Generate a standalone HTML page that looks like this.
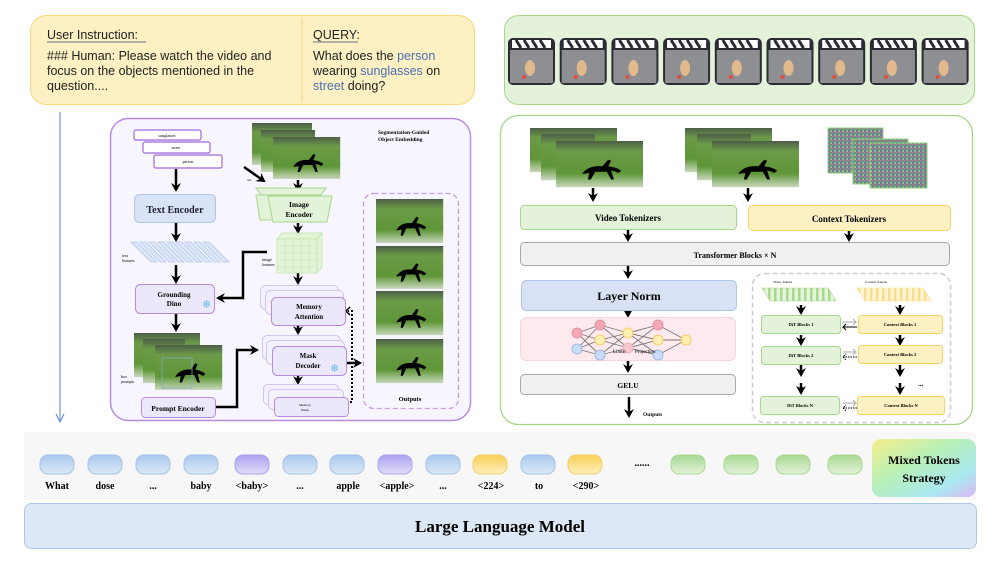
<!DOCTYPE html>
<html><head><meta charset="utf-8"><style>
html,body{margin:0;padding:0;background:#fff;width:997px;height:565px;overflow:hidden}
svg{display:block}
text{font-family:"Liberation Serif",serif}
.s{font-family:"Liberation Sans",sans-serif}
</style></head><body>
<svg width="997" height="565" viewBox="0 0 997 565" xmlns="http://www.w3.org/2000/svg">
<defs>
<marker id="ah" viewBox="0 0 10 10" refX="7" refY="5" markerWidth="4" markerHeight="4" orient="auto"><path d="M0,0 L9,5 L0,10 L3,5 Z" fill="#000"/></marker>
<linearGradient id="grass" x1="0" y1="0" x2="0" y2="1"><stop offset="0" stop-color="#4c5e48"/><stop offset="0.22" stop-color="#6c9a48"/><stop offset="0.7" stop-color="#5e9638"/><stop offset="0.88" stop-color="#9fbf88"/><stop offset="1" stop-color="#c9d6bd"/></linearGradient>
<g id="pic"><rect width="60" height="42" fill="url(#grass)"/><path d="M18,30 q4,-8 14,-7 l4,-6 2,1 -2,5 q6,1 9,4 l-2,2 q-3,-2 -5,-2 l2,8 -2,0 -3,-7 -8,0 -3,7 -2,0 1,-6z" fill="#000"/></g>
<g id="tok"><rect width="34" height="19" rx="8"/></g>
<linearGradient id="tb" x1="0" y1="0" x2="0" y2="1"><stop offset="0" stop-color="#a9c8ec"/><stop offset="1" stop-color="#dde9f7"/></linearGradient>
<linearGradient id="tp" x1="0" y1="0" x2="0" y2="1"><stop offset="0" stop-color="#a9a0ee"/><stop offset="1" stop-color="#e3dffa"/></linearGradient>
<linearGradient id="ty" x1="0" y1="0" x2="0" y2="1"><stop offset="0" stop-color="#f8cf55"/><stop offset="1" stop-color="#fdf0c0"/></linearGradient>
<linearGradient id="tg" x1="0" y1="0" x2="0" y2="1"><stop offset="0" stop-color="#a8d890"/><stop offset="1" stop-color="#e4f3dc"/></linearGradient>
<linearGradient id="mix" x1="0" y1="0" x2="1" y2="1"><stop offset="0" stop-color="#f6ee8a"/><stop offset="0.4" stop-color="#b9f0b6"/><stop offset="0.75" stop-color="#a9e9ef"/><stop offset="1" stop-color="#d9b7f4"/></linearGradient>
<pattern id="noise" width="4" height="4" patternUnits="userSpaceOnUse"><rect width="4" height="4" fill="#6f8b84"/><rect width="1.5" height="1.5" fill="#d060a8"/><rect x="2" y="1" width="1.5" height="1.5" fill="#40b070"/><rect x="0.5" y="2.5" width="1.5" height="1.5" fill="#5a6ad8"/><rect x="2.5" y="2.5" width="1.5" height="1.5" fill="#d0c860"/></pattern>
<pattern id="stg" width="6" height="6" patternUnits="userSpaceOnUse"><rect width="6" height="6" fill="#e6f4dc"/><rect width="2.5" height="6" fill="#a7d98d"/></pattern>
<pattern id="sty" width="6" height="6" patternUnits="userSpaceOnUse"><rect width="6" height="6" fill="#fff5d6"/><rect width="2.5" height="6" fill="#f8de8a"/></pattern>
</defs>

<rect x="30.5" y="15.5" width="444" height="89" rx="16" fill="#fdf0c3" stroke="#f6d77a"/>
<line x1="302" y1="18" x2="302" y2="102" stroke="#f0d68a"/>
<g class="s" font-size="12.5" fill="#222">
<text x="47" y="39" class="s">User Instruction:</text>
<line x1="47" y1="42" x2="146" y2="42" stroke="#999" stroke-width="1.5"/>
<text x="47" y="60" class="s">### Human: Please watch the video and</text>
<text x="47" y="75" class="s">focus on the objects mentioned in the</text>
<text x="47" y="90" class="s">question....</text>
<text x="313" y="39" class="s">QUERY:</text>
<line x1="313" y1="42" x2="358" y2="42" stroke="#999" stroke-width="1.5"/>
<text x="313" y="60" class="s">What does the <tspan fill="#4a6fb3">person</tspan></text>
<text x="313" y="75" class="s">wearing <tspan fill="#4a6fb3">sunglasses</tspan> on</text>
<text x="313" y="90" class="s"><tspan fill="#4a6fb3">street</tspan> doing?</text>
</g>

<rect x="504.5" y="15.5" width="470" height="89" rx="14" fill="#e3f2d9" stroke="#a6d68a"/>
<g id="frames">
<g transform="translate(508,38)"><rect width="47" height="47" rx="5" fill="#2b2b35"/><rect x="2" y="12" width="43" height="33" fill="#8e8f92"/><path d="M4,2h39v8h-39z" fill="#fff"/><path d="M8,2l5,8M16,2l5,8M24,2l5,8M32,2l5,8" stroke="#2b2b35" stroke-width="3"/><ellipse cx="22" cy="30" rx="5" ry="8" fill="#e1b98c"/><circle cx="16" cy="39" r="2" fill="#e04a3a"/></g>
</g>
<use href="#frames" x="51.7"/><use href="#frames" x="103.4"/><use href="#frames" x="155.1"/><use href="#frames" x="206.8"/><use href="#frames" x="258.5"/><use href="#frames" x="310.2"/><use href="#frames" x="361.9"/><use href="#frames" x="413.6"/>

<line x1="60" y1="112" x2="60" y2="420" stroke="#5b7fd0" stroke-width="1"/>
<path d="M56,414 L60,422 L64,414" fill="none" stroke="#5b7fd0"/>

<rect x="110.5" y="118.5" width="360" height="302" rx="18" fill="#f7f6fe" stroke="#b98ae0" stroke-width="1.5"/>
<text x="378" y="134" font-size="5.5" font-weight="bold">Segmentation-Guided</text>
<text x="378" y="141" font-size="5.5" font-weight="bold">Object Embedding</text>
<g stroke="#a068d8" fill="#fff" stroke-width="1.2">
<rect x="134" y="130" width="67" height="10" rx="2"/><rect x="143" y="142" width="67" height="11" rx="2"/><rect x="154" y="155" width="68" height="13" rx="2"/></g>
<g font-size="4" text-anchor="middle"><text x="167" y="137">sunglasses</text><text x="176" y="149">street</text><text x="188" y="163">person</text></g>
<g stroke="#000" stroke-width="2.5" fill="none" marker-end="url(#ah)">
<line x1="176" y1="169" x2="176" y2="190"/><line x1="176" y1="223" x2="176" y2="240"/><line x1="176" y1="265" x2="176" y2="282"/><line x1="176" y1="314" x2="176" y2="330"/>
<line x1="298" y1="180" x2="298" y2="190"/><line x1="298" y1="223" x2="298" y2="232"/><line x1="298" y1="273" x2="298" y2="283"/><line x1="298" y1="326" x2="298" y2="333"/><line x1="298" y1="376" x2="298" y2="383"/>
<line x1="244" y1="167" x2="264" y2="181"/>
<polyline points="267,252 243,252 243,298 218,298"/>
<polyline points="216,407 237,407 237,350 257,350"/>
<line x1="346" y1="363" x2="360" y2="363"/>
</g>
<polyline points="350,402 352,402 352,311 348,311" fill="none" stroke="#000" stroke-width="2" stroke-dasharray="2,2"/>
<path d="M350,307 l-4,4 4,4" fill="none" stroke="#000" stroke-width="1.5"/>
<rect x="134.5" y="194.5" width="81" height="28" rx="5" fill="#d8e3f6" stroke="#b0c6e8"/>
<text x="175" y="213" font-size="10" font-weight="bold" text-anchor="middle" fill="#223">Text Encoder</text>
<g fill="#dbe5f7" stroke="#b5c8ec" stroke-width="0.8">
<path d="M131,242h6l20,20h-6z"/><path d="M140,242h6l20,20h-6z"/><path d="M149,242h6l20,20h-6z"/><path d="M158,242h6l20,20h-6z"/><path d="M167,242h6l20,20h-6z"/><path d="M176,242h6l20,20h-6z"/><path d="M185,242h6l20,20h-6z"/><path d="M194,242h6l20,20h-6z"/><path d="M203,242h6l20,20h-6z"/></g>
<text x="122" y="257" font-size="4">text</text><text x="122" y="262" font-size="4">features</text>
<rect x="135.5" y="284.5" width="79" height="29" rx="5" fill="#ece8fc" stroke="#b98ae0"/>
<text x="174" y="297" font-size="7" font-weight="bold" text-anchor="middle">Grounding</text>
<text x="174" y="306" font-size="7" font-weight="bold" text-anchor="middle">Dino</text>
<text x="202" y="308" font-size="11" fill="#6bbbe8" class="s">❄</text>
<use href="#pic" transform="translate(134,333) scale(1.1,1.05)"/><use href="#pic" transform="translate(143,339) scale(0.7,1.05)"/><use href="#pic" transform="translate(155,345) scale(1.12,1.07)"/>
<rect x="162" y="358" width="30" height="30" fill="none" stroke="#8ab" stroke-width="0.8"/>
<text x="121" y="378" font-size="4">box</text><text x="121" y="383" font-size="4">prompts</text>
<rect x="141.5" y="397.5" width="74" height="20" rx="4" fill="#ece8fc" stroke="#b98ae0"/>
<text x="178" y="411" font-size="7.5" font-weight="bold" text-anchor="middle">Prompt Encoder</text>
<use href="#pic" transform="translate(252,123)"/><use href="#pic" transform="translate(261,130) scale(0.9,1.0)"/><use href="#pic" transform="translate(273,137) scale(1.12,1.0)"/>
<text x="247" y="181" font-size="3">text</text>
<g fill="#e3f3d9" stroke="#a6d68a"><path d="M258,192h70l-6,8h-58z" transform="translate(-2,-4)"/><path d="M261,193h64l-6,25h-54z" transform="translate(-5,2)"/><path d="M268,196h64l-5,26h-54z"/></g>
<text x="299" y="207" font-size="7.5" font-weight="bold" text-anchor="middle">Image</text>
<text x="299" y="217" font-size="7.5" font-weight="bold" text-anchor="middle">Encoder</text>
<g stroke="#bfe3a8" stroke-width="0.7" fill="#e3f4d9"><path d="M277,239 l5,-6 40,0 -5,6z"/><path d="M317,239 l5,-6 0,34 -5,6z"/><rect x="277" y="239" width="40" height="34"/></g>
<g stroke="#c6e8b0" stroke-width="0.6"><path d="M285,239v34M293,239v34M301,239v34M309,239v34M277,246h40M277,253h40M277,260h40M277,267h40"/></g>
<text x="262" y="261" font-size="4">image</text><text x="262" y="266" font-size="4">features</text>
<g fill="#f4f1fe" stroke="#d6c3f2"><rect x="260.5" y="285.5" width="78" height="24" rx="5"/><rect x="265.5" y="290.5" width="78" height="24" rx="5"/><rect x="262.5" y="335.5" width="78" height="24" rx="5"/><rect x="266.5" y="340.5" width="78" height="24" rx="5"/><rect x="263.5" y="384.5" width="75" height="20" rx="4"/><rect x="268.5" y="389.5" width="75" height="20" rx="4"/></g>
<g fill="#ece8fc" stroke="#b98ae0"><rect x="271.5" y="297.5" width="74" height="28" rx="5"/><rect x="272.5" y="346.5" width="74" height="29" rx="5"/><rect x="274.5" y="397.5" width="74" height="19" rx="4"/></g>
<text x="309" y="309" font-size="7" font-weight="bold" text-anchor="middle">Memory</text><text x="309" y="319" font-size="7" font-weight="bold" text-anchor="middle">Attention</text>
<text x="308" y="358" font-size="7" font-weight="bold" text-anchor="middle">Mask</text><text x="308" y="368" font-size="7" font-weight="bold" text-anchor="middle">Decoder</text>
<text x="330" y="372" font-size="11" fill="#6bbbe8" class="s">❄</text>
<text x="305" y="406" font-size="3.5" text-anchor="middle">Memory</text><text x="305" y="411" font-size="3.5" text-anchor="middle">Bank</text>
<rect x="363.5" y="193.5" width="95" height="215" rx="10" fill="none" stroke="#c59be6" stroke-width="1.3" stroke-dasharray="5,3"/>
<use href="#pic" transform="translate(376,199) scale(1.12,1.05)"/><use href="#pic" transform="translate(376,246) scale(1.12,1.02)"/><use href="#pic" transform="translate(376,291) scale(1.12,1.05)"/><use href="#pic" transform="translate(376,339) scale(1.12,1.05)"/>
<text x="410" y="401" font-size="6.5" font-weight="bold" text-anchor="middle">Outputs</text>

<rect x="500.5" y="115.5" width="472" height="309" rx="18" fill="#fff" stroke="#a6d68a" stroke-width="1.3"/>
<use href="#pic" transform="translate(530,128) scale(1.45,1.05)"/><use href="#pic" transform="translate(541,134) scale(0.9,1.1)"/><use href="#pic" transform="translate(556,141) scale(1.45,1.1)"/>
<use href="#pic" transform="translate(685,128) scale(1.45,1.05)"/><use href="#pic" transform="translate(697,134) scale(0.9,1.1)"/><use href="#pic" transform="translate(712,141) scale(1.45,1.1)"/>
<g stroke="#8fd07a"><rect x="828" y="128" width="55" height="45" fill="url(#noise)"/><rect x="853" y="139" width="55" height="45" fill="url(#noise)"/><rect x="870" y="143" width="57" height="45" fill="url(#noise)"/></g>
<g stroke="#000" stroke-width="2.5" fill="none" marker-end="url(#ah)">
<line x1="593" y1="188" x2="593" y2="200"/><line x1="748" y1="188" x2="748" y2="200"/>
<line x1="628" y1="230" x2="628" y2="240"/><line x1="849" y1="231" x2="849" y2="240"/>
<line x1="628" y1="266" x2="628" y2="277"/><line x1="628" y1="306" x2="628" y2="316"/><line x1="628" y1="360" x2="628" y2="371"/><line x1="629" y1="397" x2="629" y2="416"/>
<line x1="801" y1="305" x2="801" y2="313"/><line x1="900" y1="305" x2="900" y2="313"/>
<line x1="801" y1="335" x2="801" y2="344"/><line x1="900" y1="335" x2="900" y2="344"/>
<line x1="801" y1="365" x2="801" y2="375"/><line x1="900" y1="365" x2="900" y2="375"/>
<line x1="801" y1="383" x2="801" y2="393"/><line x1="900" y1="383" x2="900" y2="393"/>
</g>
<rect x="520.5" y="205.5" width="216" height="24" rx="4" fill="#e3f2d9" stroke="#a6d68a"/>
<text x="628" y="221" font-size="9" font-weight="bold" text-anchor="middle">Video Tokenizers</text>
<rect x="748.5" y="205.5" width="202" height="25" rx="4" fill="#fdf0c3" stroke="#f6d36a"/>
<text x="849" y="222" font-size="9" font-weight="bold" text-anchor="middle">Context Tokenizers</text>
<rect x="520.5" y="242.5" width="429" height="23" rx="4" fill="#f0f0f0" stroke="#a8a8a8"/>
<text x="735" y="258" font-size="8" font-weight="bold" text-anchor="middle">Transformer Blocks × N</text>
<rect x="521.5" y="280.5" width="215" height="30" rx="5" fill="#d9e2f5" stroke="#b0c6e8"/>
<text x="629" y="300" font-size="12" font-weight="bold" text-anchor="middle">Layer Norm</text>
<rect x="520.5" y="317.5" width="215" height="43" rx="6" fill="#fdeaee" stroke="#f7d3dc"/>
<g stroke="#777" stroke-width="0.9">
<path d="M577,333L600,325M577,333L600,340M577,333L600,355M577,349L600,325M577,349L600,340M577,349L600,355"/>
<path d="M600,325L628,333M600,325L628,348M600,340L628,333M600,340L628,348M600,355L628,333M600,355L628,348"/>
<path d="M628,333L658,325M628,333L658,340M628,333L658,355M628,348L658,325M628,348L658,340M628,348L658,355"/>
<path d="M658,325L686,340M658,340L686,340M658,355L686,340"/></g>
<g stroke-width="0.8">
<circle cx="577" cy="333" r="5" fill="#f2a9b5" stroke="#e38a9a"/><circle cx="577" cy="349" r="5" fill="#c9dbf5" stroke="#8fb0e3"/>
<circle cx="600" cy="325" r="5" fill="#f2a9b5" stroke="#e38a9a"/><circle cx="600" cy="340" r="5" fill="#fdf0b0" stroke="#f3c94e"/><circle cx="600" cy="355" r="5" fill="#c9dbf5" stroke="#8fb0e3"/>
<circle cx="628" cy="333" r="5" fill="#fdf0b0" stroke="#f3c94e"/><circle cx="628" cy="348" r="5" fill="#f7c7d0" stroke="#f0a8b5"/>
<circle cx="658" cy="325" r="5" fill="#f2a9b5" stroke="#e38a9a"/><circle cx="658" cy="340" r="5" fill="#fdf0b0" stroke="#f3c94e"/><circle cx="658" cy="355" r="5" fill="#c9dbf5" stroke="#8fb0e3"/>
<circle cx="686" cy="340" r="5" fill="#fdf0b0" stroke="#f3c94e"/></g>
<text x="613" y="353" font-size="5">Linear</text><text x="635" y="353" font-size="5">Projection</text>
<rect x="520.5" y="374.5" width="215" height="20" rx="4" fill="#f0f0f0" stroke="#a8a8a8"/>
<text x="628" y="388" font-size="7.5" font-weight="bold" text-anchor="middle">GELU</text>
<text x="643" y="416" font-size="5.5" font-weight="bold">Outputs</text>
<rect x="752.5" y="273.5" width="198" height="149" rx="12" fill="none" stroke="#cfcfcf" stroke-width="1.6" stroke-dasharray="5,3"/>
<text x="773" y="283" font-size="3.5">Video Tokens</text><text x="865" y="283" font-size="3.5">Context Tokens</text>
<path d="M762,288h66l8,13h-66z" fill="url(#stg)" stroke="#a7d98d" stroke-width="0.6"/>
<path d="M857,288h66l8,13h-66z" fill="url(#sty)" stroke="#f8de8a" stroke-width="0.6"/>
<g fill="#e3f2d9" stroke="#a6d68a"><rect x="761.5" y="315.5" width="79" height="18" rx="3"/><rect x="761.5" y="346.5" width="79" height="18" rx="3"/><rect x="760.5" y="396.5" width="79" height="18" rx="3"/></g>
<g fill="#fdf0c3" stroke="#f6d36a"><rect x="858.5" y="315.5" width="84" height="18" rx="3"/><rect x="858.5" y="345.5" width="84" height="18" rx="3"/><rect x="857.5" y="396.5" width="87" height="18" rx="3"/></g>
<g font-size="4.5" font-weight="bold" text-anchor="middle"><text x="801" y="326">DiT Blocks 1</text><text x="801" y="357">DiT Blocks 2</text><text x="800" y="407">DiT Blocks N</text>
<text x="900" y="326">Context Blocks 1</text><text x="900" y="356">Context Blocks 2</text><text x="901" y="407">Context Blocks N</text></g>
<g fill="none" stroke-width="1"><path d="M857,327h-14l3,-3M843,327l3,3" stroke="#000"/><path d="M843,322h13l-3,-3M856,322l-3,3" stroke="#aaa"/>
<path d="M857,357h-14l3,-3M843,357l3,3" stroke="#000" stroke-dasharray="1.5,1"/><path d="M843,352h13l-3,-3M856,352l-3,3" stroke="#aaa"/>
<path d="M857,408h-14l3,-3M843,408l3,3" stroke="#000" stroke-dasharray="1.5,1"/><path d="M843,403h13l-3,-3M856,403l-3,3" stroke="#aaa"/></g>
<text x="798" y="388" font-size="7" font-weight="bold">...</text><text x="918" y="386" font-size="7" font-weight="bold">...</text>

<rect x="24" y="432" width="952" height="68" fill="#f7f7f7"/>
<g stroke-width="1">
<use href="#tok" x="40" y="455" fill="url(#tb)" stroke="#a3c3e8"/><use href="#tok" x="88" y="455" fill="url(#tb)" stroke="#a3c3e8"/><use href="#tok" x="136" y="455" fill="url(#tb)" stroke="#a3c3e8"/><use href="#tok" x="184" y="455" fill="url(#tb)" stroke="#a3c3e8"/>
<use href="#tok" x="235" y="455" fill="url(#tp)" stroke="#aaa2ee"/><use href="#tok" x="283" y="455" fill="url(#tb)" stroke="#a3c3e8"/><use href="#tok" x="330" y="455" fill="url(#tb)" stroke="#a3c3e8"/><use href="#tok" x="378" y="455" fill="url(#tp)" stroke="#aaa2ee"/>
<use href="#tok" x="426" y="455" fill="url(#tb)" stroke="#a3c3e8"/><use href="#tok" x="473" y="455" fill="url(#ty)" stroke="#f5d06a"/><use href="#tok" x="521" y="455" fill="url(#tb)" stroke="#a3c3e8"/><use href="#tok" x="568" y="455" fill="url(#ty)" stroke="#f5d06a"/>
<use href="#tok" x="671" y="455" fill="url(#tg)" stroke="#a8d890"/><use href="#tok" x="724" y="455" fill="url(#tg)" stroke="#a8d890"/><use href="#tok" x="776" y="455" fill="url(#tg)" stroke="#a8d890"/><use href="#tok" x="828" y="455" fill="url(#tg)" stroke="#a8d890"/></g>
<g font-size="10" font-weight="bold" text-anchor="middle">
<text x="57" y="489">What</text><text x="105" y="489">dose</text><text x="153" y="489">...</text><text x="201" y="489">baby</text><text x="252" y="489">&lt;baby&gt;</text><text x="300" y="489">...</text><text x="348" y="489">apple</text><text x="397" y="489">&lt;apple&gt;</text><text x="443" y="489">...</text><text x="491" y="489">&lt;224&gt;</text><text x="539" y="489">to</text><text x="586" y="489">&lt;290&gt;</text>
<text x="642" y="466">......</text></g>
<rect x="872" y="439" width="104" height="58" rx="9" fill="url(#mix)"/>
<text x="924" y="464" font-size="12" font-weight="bold" text-anchor="middle">Mixed Tokens</text>
<text x="924" y="482" font-size="12" font-weight="bold" text-anchor="middle">Strategy</text>
<rect x="24.5" y="503.5" width="952" height="45" rx="7" fill="#dce8f5" stroke="#a9c6e8"/>
<text x="500" y="532" font-size="17" font-weight="bold" text-anchor="middle">Large Language Model</text>
</svg>
</body></html>
